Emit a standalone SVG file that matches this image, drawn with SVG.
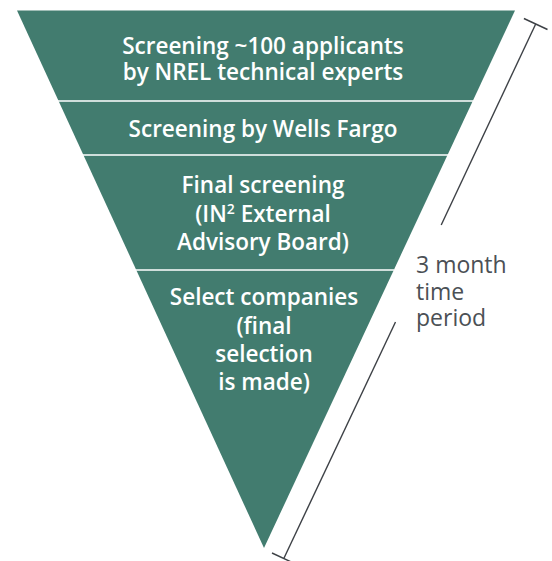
<svg xmlns="http://www.w3.org/2000/svg" width="552" height="561" viewBox="0 0 552 561">
  <style>
    .stage { fill: #427c6f; }
    .divider { stroke: #ffffff; stroke-width: 1.5; }
    .label { font-family: "Open Sans", "Liberation Sans", sans-serif; font-size: 22.5px; font-weight: 600; fill: #ffffff; text-anchor: middle; }
    .bracket { stroke: #3d4146; stroke-width: 1.4; fill: none; }
    .note { font-family: "Open Sans", "Liberation Sans", sans-serif; font-size: 23px; fill: #4b5055; }
  </style>
  <rect width="552" height="561" fill="#ffffff"/>

  <!-- funnel body -->
  <g id="funnel">
    <polygon class="stage" points="17,10.5 515,10.5 264,548"/>
  </g>

  <!-- stage separators -->
  <g id="connectors">
    <line class="divider" x1="58" y1="101" x2="473" y2="101"/>
    <line class="divider" x1="83" y1="155" x2="448" y2="155"/>
    <line class="divider" x1="136" y1="270" x2="394" y2="270"/>
  </g>

  <g id="stage1">
    <text class="label" x="263" y="54">Screening ~100 applicants</text>
    <text class="label" x="263" y="80">by NREL technical experts</text>
  </g>
  <g id="stage2">
    <text class="label" x="263" y="137">Screening by Wells Fargo</text>
  </g>
  <g id="stage3">
    <text class="label" x="263" y="193">Final screening</text>
    <text class="label" x="263" y="221.5">(IN<tspan font-size="14" dy="-8">2</tspan><tspan dy="8"> External</tspan></text>
    <text class="label" x="263" y="250">Advisory Board)</text>
  </g>
  <g id="stage4">
    <text class="label" x="264" y="305">Select companies</text>
    <text class="label" x="264" y="333.5">(final</text>
    <text class="label" x="264" y="362">selection</text>
    <text class="label" x="264" y="390">is made)</text>
  </g>

  <!-- duration bracket -->
  <g id="duration">
    <line class="bracket" x1="535.7" y1="24" x2="441.2" y2="225"/>
    <line class="bracket" x1="395.5" y1="322" x2="283.8" y2="558.5"/>
    <line class="bracket" x1="523.9" y1="18.5" x2="547.5" y2="29.5"/>
    <line class="bracket" x1="272" y1="553" x2="295.6" y2="564"/>
    <text class="note" x="416" y="273">3 month</text>
    <text class="note" x="416" y="299.5">time</text>
    <text class="note" x="416" y="325.5">period</text>
  </g>
</svg>
